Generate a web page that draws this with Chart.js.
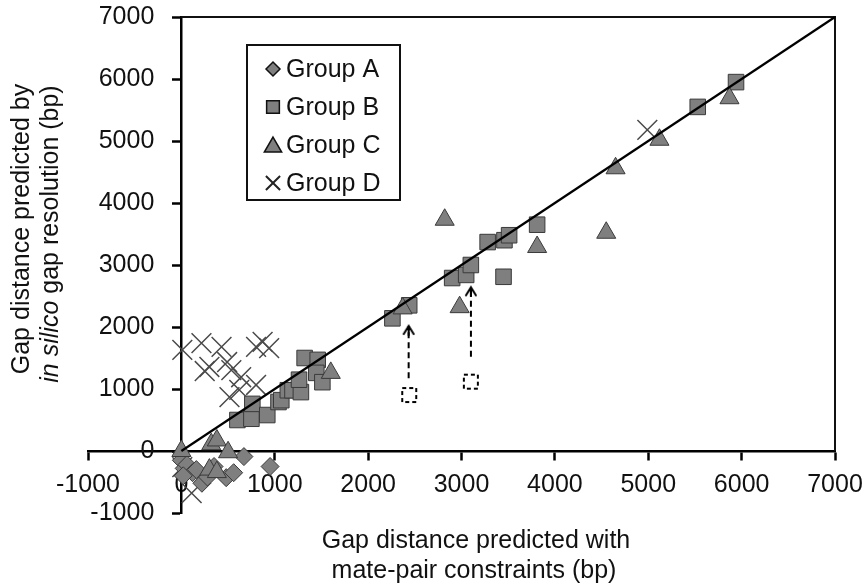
<!DOCTYPE html>
<html>
<head>
<meta charset="utf-8">
<script src="https://cdn.jsdelivr.net/npm/chart.js"></script>
<style>
html,body{margin:0;padding:0;background:#fff;}
#wrap{width:866px;height:586px;position:relative;}
</style>
</head>
<body>
<div id="wrap"><canvas id="c" width="866" height="586"></canvas></div>
<script>
// ---------------- DATA ----------------
const seriesNames = ['Group A', 'Group B', 'Group C', 'Group D'];

const groupA_x = [0, 30, 60, 120, 160, 220, 280, 350, 480, 560, 670, 950, 20];
const groupA_y = [-150, -280, -220, -350, -300, -520, -420, -250, -430, -350, -90, -250, -400];

const groupB_x = [600, 750, 760, 920, 1040, 1070, 1140, 1190, 1280, 1260, 1320, 1460, 1445, 1510,
                  2260, 2440, 2900, 3050, 3100, 3280, 3460, 3510, 3450, 3810, 5530, 5940];
const groupB_y = [500, 520, 760, 580, 790, 820, 980, 980, 950, 1150, 1500, 1470, 1260, 1110,
                  2140, 2350, 2790, 2840, 3000, 3370, 3400, 3480, 2810, 3650, 5550, 5950];

const groupC_x = [0, 320, 380, 500, 300, 380, 1600, 2370, 2820, 2980, 3810, 4550, 4650, 5120, 5870];
const groupC_y = [0, 110, 170, -20, -300, -340, 1260, 2300, 3730, 2320, 3290, 3520, 4560, 5020, 5690];

const groupD_x = [10, 215, 430, 300, 250, 490, 535, 640, 515, 620, 800, 870, 940, 800, 10, 110, 4990];
const groupD_y = [1630, 1740, 1680, 1355, 1290, 1435, 1305, 1190, 870, 985, 1680, 1760, 1660, 1065, -260, -680, 5180];

// dashed open squares (values before correction) and arrows
const adjustedX = [2440, 3100];
const adjustedY = [903, 1118];
const arrow1X = [2434, 2434];
const arrow1Y = [1172, 2016];
const arrow2X = [3101, 3101];
const arrow2Y = [1521, 2640];

// y = x reference line and plot frame
const diagonalX = [0, 7000];
const diagonalY = [0, 7000];
const frameX = [0, 7000, 7000];
const frameY = [7000, 7000, 0];

const tickValues = [-1000, 0, 1000, 2000, 3000, 4000, 5000, 6000, 7000];
const tickLabels = ['-1000', '0', '1000', '2000', '3000', '4000', '5000', '6000', '7000'];

const xTitleLines = ['Gap distance predicted with', 'mate-pair constraints (bp)'];
const yTitleLine1 = 'Gap distance predicted by';
const yTitleLine2Italic = 'in silico';
const yTitleLine2Rest = ' gap resolution (bp)';

// ---------------- HELPERS ----------------
const FONT = '"Liberation Sans", Arial, Helvetica, sans-serif';
const pts = (xs, ys) => xs.map((x, i) => ({x: x, y: ys[i]}));

function makeDashedSquare() {
  const c = document.createElement('canvas');
  c.width = 20; c.height = 20;
  const g = c.getContext('2d');
  g.fillStyle = '#fff';
  g.fillRect(3, 3, 14, 14);
  g.strokeStyle = '#000';
  g.lineWidth = 2;
  g.setLineDash([4, 3]);
  g.strokeRect(3, 3, 14, 14);
  return c;
}
function makeArrowHead() {
  const c = document.createElement('canvas');
  c.width = 20; c.height = 20;
  const g = c.getContext('2d');
  g.strokeStyle = '#000';
  g.lineWidth = 2;
  g.lineCap = 'round';
  g.beginPath();
  g.moveTo(5, 18); g.lineTo(10, 10); g.lineTo(15, 18);
  g.moveTo(10, 10); g.lineTo(10, 19);
  g.stroke();
  return c;
}
const dashedSquare = makeDashedSquare();
const arrowHead = makeArrowHead();

function drawMarker(ctx, style, x, y, r) {
  ctx.beginPath();
  if (style === 'rectRot') {
    ctx.moveTo(x - r, y); ctx.lineTo(x, y - r); ctx.lineTo(x + r, y); ctx.lineTo(x, y + r); ctx.closePath();
  } else if (style === 'rect') {
    const s = Math.SQRT1_2 * r;
    ctx.rect(x - s, y - s, 2 * s, 2 * s);
  } else if (style === 'triangle') {
    ctx.moveTo(x, y - r);
    ctx.lineTo(x + Math.sin(2 * Math.PI / 3) * r, y + 0.5 * r);
    ctx.lineTo(x - Math.sin(2 * Math.PI / 3) * r, y + 0.5 * r);
    ctx.closePath();
  } else if (style === 'crossRot') {
    const o = Math.SQRT1_2 * r;
    ctx.moveTo(x - o, y - o); ctx.lineTo(x + o, y + o);
    ctx.moveTo(x + o, y - o); ctx.lineTo(x - o, y + o);
  }
}

const markerStyles = ['rectRot', 'rect', 'triangle', 'crossRot'];
const FILL = '#7f7f7f';
const EDGE = '#3a3a3a';
const CROSS = '#4a4a4a';

// ---------------- PLUGINS ----------------
const legendBox = {
  id: 'legendBox',
  afterDraw(chart) {
    const ctx = chart.ctx;
    ctx.save();
    const L = 247, T = 45, R = 400, B = 200;
    ctx.fillStyle = '#fff';
    ctx.fillRect(L, T, R - L, B - T);
    ctx.strokeStyle = '#111';
    ctx.lineWidth = 2;
    ctx.strokeRect(L, T, R - L, B - T);
    const rows = [69, 107, 145, 183];
    const radii = [7, 9, 10, 10];
    ctx.font = '25px ' + FONT;
    ctx.textBaseline = 'middle';
    ctx.textAlign = 'left';
    seriesNames.forEach((name, i) => {
      const y = rows[i];
      drawMarker(ctx, markerStyles[i], 273, i === 2 ? y + 2 : y, radii[i]);
      if (markerStyles[i] === 'crossRot') {
        ctx.strokeStyle = '#222'; ctx.lineWidth = 2; ctx.stroke();
      } else {
        ctx.fillStyle = FILL; ctx.fill();
        ctx.strokeStyle = '#111'; ctx.lineWidth = 1.5; ctx.stroke();
      }
      ctx.fillStyle = '#111';
      ctx.fillText(name, 286, y + 1);
    });
    ctx.restore();
  }
};

const axisTitles = {
  id: 'axisTitles',
  afterDraw(chart) {
    const ctx = chart.ctx;
    ctx.save();
    ctx.fillStyle = '#111';
    ctx.font = '25px ' + FONT;
    ctx.textAlign = 'center';
    ctx.textBaseline = 'middle';
    ctx.fillText(xTitleLines[0], 476, 541);
    ctx.fillText(xTitleLines[1], 474, 571);
    ctx.restore();

    ctx.save();
    ctx.fillStyle = '#111';
    ctx.translate(22, 229);
    ctx.rotate(-Math.PI / 2);
    ctx.font = '25px ' + FONT;
    ctx.textAlign = 'center';
    ctx.textBaseline = 'middle';
    ctx.fillText(yTitleLine1, 0, 0);
    ctx.restore();

    ctx.save();
    ctx.fillStyle = '#111';
    ctx.translate(51, 234);
    ctx.rotate(-Math.PI / 2);
    ctx.textBaseline = 'middle';
    ctx.textAlign = 'left';
    const fi = 'italic 25px ' + FONT, fn = '25px ' + FONT;
    ctx.font = fi; const w1 = ctx.measureText(yTitleLine2Italic).width;
    ctx.font = fn; const w2 = ctx.measureText(yTitleLine2Rest).width;
    const start = -(w1 + w2) / 2;
    ctx.font = fi; ctx.fillText(yTitleLine2Italic, start, 0);
    ctx.font = fn; ctx.fillText(yTitleLine2Rest, start + w1, 0);
    ctx.restore();
  }
};

// ---------------- CHART ----------------
const tickFont = {family: FONT, size: 25};
function setTicks(scale) { scale.ticks = tickValues.map(v => ({value: v})); }
function tickLabel(v) { const i = tickValues.indexOf(v); return i >= 0 ? tickLabels[i] : ''; }

new Chart(document.getElementById('c'), {
  type: 'scatter',
  data: {
    datasets: [
      {label: 'diag', data: pts(diagonalX, diagonalY), showLine: true, borderColor: '#000', borderWidth: 2.2, pointRadius: 0, order: 0},
      {label: 'frame', data: pts(frameX, frameY), showLine: true, borderColor: '#111', borderWidth: 2, pointRadius: 0, order: 0},
      {label: 'arrow1', data: pts(arrow1X, arrow1Y), showLine: true, borderColor: '#000', borderWidth: 2, borderDash: [6, 4],
       pointRadius: [0, 5], pointStyle: arrowHead, order: 0},
      {label: 'arrow2', data: pts(arrow2X, arrow2Y), showLine: true, borderColor: '#000', borderWidth: 2, borderDash: [6, 4],
       pointRadius: [0, 5], pointStyle: arrowHead, order: 0},
      {label: 'adjusted', data: pts(adjustedX, adjustedY), pointStyle: dashedSquare, pointRadius: 5, order: 0},
      {label: seriesNames[2], data: pts(groupC_x, groupC_y), pointStyle: 'triangle', pointRadius: 11,
       backgroundColor: FILL, borderColor: EDGE, borderWidth: 1, order: 1},
      {label: seriesNames[1], data: pts(groupB_x, groupB_y), pointStyle: 'rect', pointRadius: 11,
       backgroundColor: FILL, borderColor: EDGE, borderWidth: 1, order: 2},
      {label: seriesNames[0], data: pts(groupA_x, groupA_y), pointStyle: 'rectRot', pointRadius: 9,
       backgroundColor: FILL, borderColor: EDGE, borderWidth: 1, order: 3},
      {label: seriesNames[3], data: pts(groupD_x, groupD_y), pointStyle: 'crossRot', pointRadius: 14,
       backgroundColor: 'rgba(0,0,0,0)', borderColor: CROSS, borderWidth: 1.5, order: 4}
    ]
  },
  options: {
    responsive: false,
    animation: false,
    devicePixelRatio: 1,
    events: [],
    clip: false,
    layout: {autoPadding: false, padding: {left: 88, right: 31, top: 17, bottom: 73}},
    plugins: {legend: {display: false}, tooltip: {enabled: false}},
    scales: {
      x: {
        type: 'linear', min: -1000, max: 7000, position: {y: 0},
        afterBuildTicks: setTicks,
        ticks: {display: false},
        grid: {drawOnChartArea: false, drawTicks: true, tickLength: 8, tickWidth: 2.5, color: '#000'},
        border: {display: true, color: '#000', width: 2.5}
      },
      xLabels: {
        type: 'linear', axis: 'x', min: -1000, max: 7000, position: {y: -306},
        afterBuildTicks: setTicks,
        ticks: {font: tickFont, color: '#111', padding: 0, maxRotation: 0, autoSkip: false, callback: tickLabel},
        grid: {display: false, drawTicks: false},
        border: {display: false}
      },
      y: {
        type: 'linear', min: -1000, max: 7000, position: {x: 0},
        afterBuildTicks: setTicks,
        ticks: {display: false},
        grid: {drawOnChartArea: false, drawTicks: true, tickLength: 8, tickWidth: 2.5, color: '#000'},
        border: {display: true, color: '#000', width: 2.5}
      },
      yLabels: {
        type: 'linear', axis: 'y', min: -1000, max: 7000, position: {x: -290},
        afterBuildTicks: setTicks,
        ticks: {font: tickFont, color: '#111', padding: 0, autoSkip: false, callback: tickLabel},
        grid: {display: false, drawTicks: false},
        border: {display: false}
      }
    }
  },
  plugins: [legendBox, axisTitles]
});
</script>
</body>
</html>
